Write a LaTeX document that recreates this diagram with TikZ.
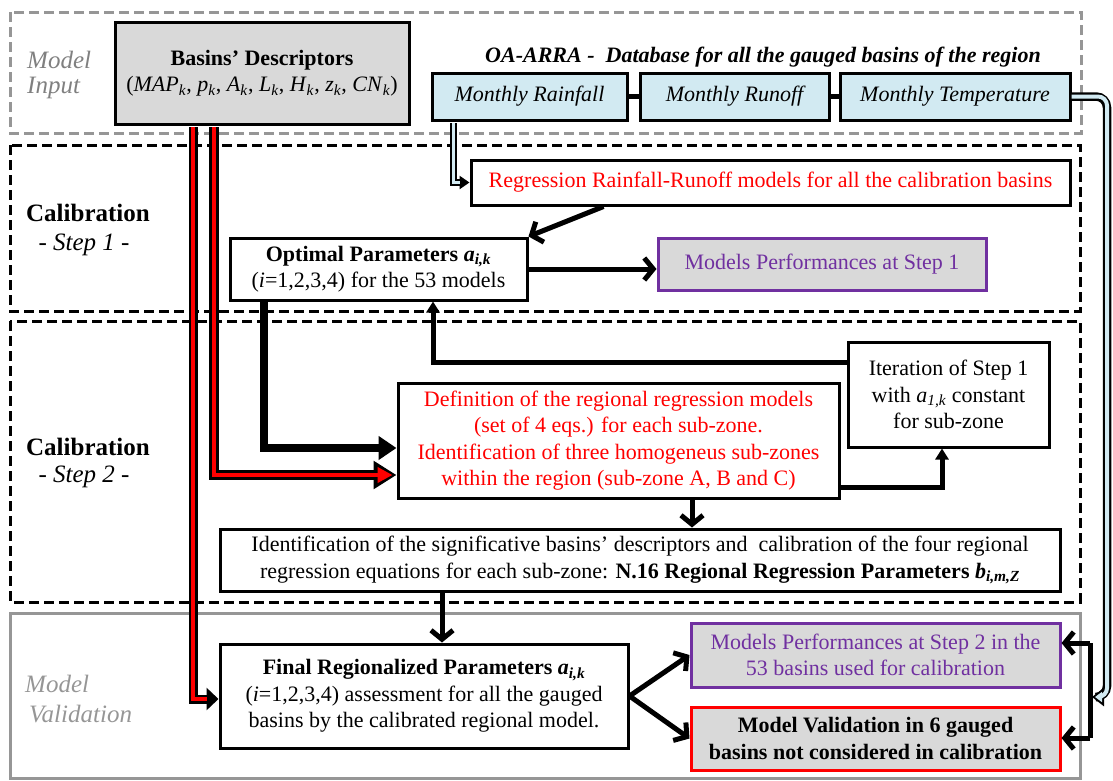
\documentclass[tikz,border=0pt]{standalone}
\usepackage{fontspec}
\setmainfont{Liberation Serif}
\usetikzlibrary{arrows.meta,calc}
\definecolor{boxgray}{RGB}{217,217,217}
\definecolor{lblue}{RGB}{210,234,242}
\definecolor{mpurple}{RGB}{112,48,160}
\definecolor{mred}{RGB}{255,0,0}
\definecolor{framegray}{RGB}{150,150,150}
\definecolor{labelgray}{RGB}{128,128,128}
\newcommand\fsmain{\fontsize{22}{26.5}\selectfont}
\newcommand\fsside{\fontsize{25}{29}\selectfont}
\newcommand\ksub[1]{\textit{#1}\textsubscript{\textit{k}}}
\begin{document}
\begin{tikzpicture}[x=1pt,y=-1pt,
  box/.style={draw=black,line width=3pt,inner sep=0pt,align=center,font=\fsmain,fill=white},
  dataset/.style={box,fill=lblue,font=\fsmain\itshape},
  perfbox/.style={box,draw=mpurple,fill=boxgray,text=mpurple},
  frame/.style={line width=3pt,dash pattern=on 10pt off 5pt},
  sidelabel/.style={font=\fsside\itshape,text=labelgray,inner sep=0pt,anchor=west},
  calib/.style={font=\fsside\bfseries,inner sep=0pt},
  stepl/.style={font=\fsside\itshape,inner sep=0pt},
  barb/.style={line width=5pt,-{Straight Barb[length=9pt,width=22pt]}},
  flow/.style={line width=5pt,-{Triangle[length=11pt,width=13pt]}},
]
\useasboundingbox (0,0) rectangle (1113,780);
% frames
\draw[frame,framegray] (10,12) rectangle (1081,133);
\draw[frame] (10,145) rectangle (1080,311);
\draw[frame] (10,321) rectangle (1080,602);
\draw[line width=3pt,framegray] (10,613) rectangle (1080,778);

% side labels
\node[sidelabel] (mi1) at (27,60) {Model};
\node[sidelabel] (mi2) at (27,88) {Input};
\node[calib] (c1) at (88,213) {Calibration};
\node[stepl] (s1) at (84,245) {- Step 1 -};
\node[calib] (c2) at (88,447) {Calibration};
\node[stepl] (s2) at (84,477) {- Step 2 -};
\node[sidelabel,text=framegray] (mv1) at (25,684) {Model};
\node[sidelabel,text=framegray] (mv2) at (29,714) {Validation};

% title
\node[font=\fontsize{22}{26}\selectfont\bfseries\itshape,inner sep=0pt] (title) at (763,57) {OA-ARRA -\ \ Database for all the gauged basins of the region};

% boxes
\node[box,fill=boxgray,minimum width=294pt,minimum height=102pt] (desc) at (262,73)
  {\textbf{Basins’ Descriptors}\\(\ksub{MAP}, \ksub{p}, \ksub{A}, \ksub{L}, \ksub{H}, \ksub{z}, \ksub{CN})};
\node[dataset,minimum width=195pt,minimum height=47pt] (rain) at (529.5,96.5) {Monthly Rainfall};
\node[dataset,minimum width=189pt,minimum height=47pt] (runoff) at (734.5,96.5) {Monthly Runoff};
\node[dataset,minimum width=230pt,minimum height=47pt] (temp) at (955,96.5) {Monthly Temperature};
\node[box,text=mred,minimum width=599pt,minimum height=45pt] (regr) at (770.5,182.5)
  {Regression Rainfall-Runoff models for all the calibration basins};
\node[box,minimum width=297pt,minimum height=62pt] (opt) at (378.5,269)
  {\textbf{Optimal Parameters \textit{a}\textsubscript{\textit{i,k}}}\\(\textit{i}=1,2,3,4) for the 53 models};
\node[perfbox,minimum width=328pt,minimum height=52pt] (perf1) at (822,264) {Models Performances at Step 1};
\node[box,minimum width=201pt,minimum height=105pt] (iter) at (948.5,394.5)
  {Iteration of Step 1\\with \textit{a}\textsubscript{\textit{1,k}} constant\\for sub-zone};
\node[box,text=mred,minimum width=441pt,minimum height=115pt] (def) at (618.5,440.5)
  {Definition of the regional regression models\\(set of 4 eqs.) for each sub-zone.\\Identification of three homogeneus sub-zones\\within the region (sub-zone A, B and C)};
\node[box,minimum width=840pt,minimum height=62pt] (ident) at (640,560)
  {Identification of the significative basins’ descriptors and\ \ calibration of the four regional\\regression equations for each sub-zone: \textbf{N.16 Regional Regression Parameters \textit{b}\textsubscript{\textit{i,m,Z}}}};
\node[box,minimum width=408pt,minimum height=104pt] (final) at (424,696)
  {\textbf{Final Regionalized Parameters \textit{a}\textsubscript{\textit{i,k}}}\\(\textit{i}=1,2,3,4) assessment for all the gauged\\basins by the calibrated regional model.};
\node[perfbox,minimum width=369pt,minimum height=64pt] (perf2) at (875.5,655)
  {Models Performances at Step 2 in the\\53 basins used for calibration};
\node[box,draw=mred,fill=boxgray,font=\fsmain\bfseries,minimum width=369pt,minimum height=63pt] (valid) at (875.5,738.5)
  {Model Validation in 6 gauged\\basins not considered in calibration};

% dataset links
\draw[line width=5pt] (rain) -- (runoff);
\draw[line width=5pt] (runoff) -- (temp);

% light blue connectors
\coordinate (lb1) at ($(rain.south west)+(23,1.5)$);
\draw[line width=7pt,-{Triangle[length=10pt,width=13pt]}] (lb1) |- (regr.west);
\draw[lblue,line width=3.5pt,shorten >=10pt] (lb1) |- (regr.west);
\coordinate (lbc1) at (1107,96.5);
\coordinate (lbc2) at (1107,697);
\coordinate (lbend) at (1092,697);
\draw[line width=8.5pt,rounded corners=11pt,-{Triangle[length=12pt,width=18pt]}] (temp.east) -- (lbc1) -- (lbc2) -- (lbend);
\draw[lblue,line width=4pt,rounded corners=9pt,shorten >=3pt,-{Triangle[length=7pt,width=10pt]}] (temp.east) -- (lbc1) -- (lbc2) -- (lbend);

% red connectors
\coordinate (r1s) at ($(desc.south)+(-48,1.5)$);
\coordinate (r1t) at (214,475);
\draw[line width=10pt,-{Triangle[length=23pt,width=27pt]}] (r1s) |- (def.west |- r1t);
\draw[mred,line width=4pt,shorten >=4pt,-{Triangle[length=15pt,width=15pt]}] (r1s) |- (def.west |- r1t);
\coordinate (r2s) at ($(desc.south)+(-69,1.5)$);
\coordinate (r2t) at (193,699);
\draw[line width=9pt,-{Triangle[length=12pt,width=22pt]}] (r2s) |- (final.west |- r2t);
\draw[mred,line width=3.5pt,shorten >=12pt] (r2s) |- (final.west |- r2t);

% black connectors
\coordinate (o1) at ($(opt.south west)+(35,0)$);
\coordinate (o2) at (265,448);
\draw[line width=8pt,-{Triangle[length=18pt,width=23pt]}] (o1) |- (def.west |- o2);
\draw[barb] ($(regr.south west)+(134,0)$) -- (opt.north east);
\draw[barb] (opt.east) -- (opt.east -| perf1.west);
\coordinate (i1) at (942,487);
\draw[flow] (def.east |- i1) -- (i1) -- (iter.south -| i1);
\coordinate (i2) at (433,362);
\draw[flow] (iter.west |- i2) -- (i2) -- (opt.south -| i2);
\coordinate (a1) at (692,0);
\draw[barb] (def.south -| a1) -- (ident.north -| a1);
\coordinate (a2) at (442,0);
\draw[barb] (ident.south -| a2) -- (final.north -| a2);
\draw[barb] (final.east) -- (perf2.west);
\draw[barb] (final.east) -- (valid.west);
\coordinate (rv1) at (1090,643);
\coordinate (rv2) at (1090,738);
\draw[line width=5pt] (rv1) -- (rv2);
\draw[barb] (rv1) -- (perf2.east |- rv1);
\draw[barb] (rv2) -- (valid.east |- rv2);
\end{tikzpicture}
\end{document}
